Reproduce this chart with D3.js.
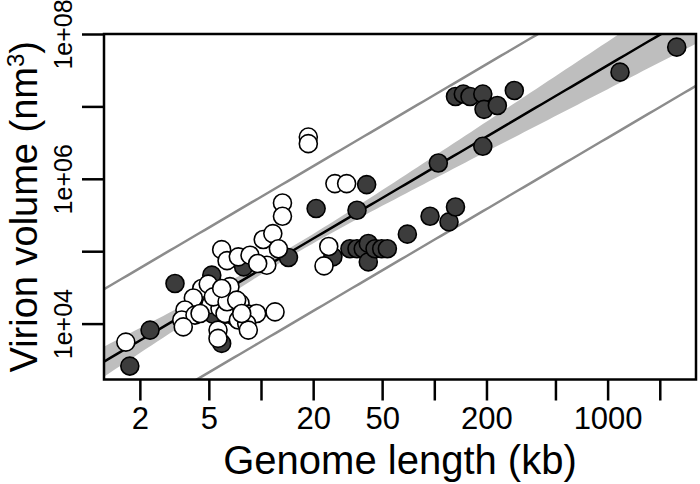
<!DOCTYPE html>
<html>
<head>
<meta charset="utf-8">
<script src="https://cdn.jsdelivr.net/npm/d3@7"></script>
<style>
  body { margin: 0; background: #fff; }
  text { font-family: "Liberation Sans", Arial, Helvetica, sans-serif; fill: #000; }
</style>
</head>
<body>
<svg id="chart" width="700" height="484"></svg>
<script>
// genome length (kb) and virion volume (nm^3), filled symbols
var genomeFilled = [1.75, 2.29, 3.19, 5.2, 5.93, 5.55, 5.28, 7.94, 14.4, 20.8, 26.0, 32.6, 35.8, 38.9, 41.6, 41.6,
  45.5, 49.7, 53.6, 35.8, 40.7, 69.9, 94.5, 121.6, 132.5, 105.5, 190.5, 132.5, 147, 160.7, 190.5, 193.6, 231, 289.5, 1179, 2505];
var volumeFilled = [2590, 8130, 35800, 46700, 5330, 27500, 13500, 60700, 81900, 388000, 83500, 108000, 108000, 108000, 128000, 71200,
  108000, 108000, 108000, 368000, 832000, 172000, 304000, 254000, 408000, 1650000, 2810000, 13700000, 14800000, 13700000, 14800000, 9100000, 10300000, 16600000, 29700000, 65800000];

// open symbols
var genomeOpen = [1.66, 18.75, 18.75, 26.7, 31.2, 13.3, 13.3, 5.93, 6.37, 7.40, 8.64, 10.3, 11.7, 12.6, 10.8, 9.57,
  24.6, 23.1, 6.62, 4.55, 4.07, 5.13, 3.64, 5.80, 7.57, 6.28, 7.08, 8.45, 9.44, 12.05, 3.49, 4.16,
  3.56, 4.45, 4.96, 5.31, 5.65, 5.65, 6.20, 6.37, 7.24, 7.40, 8.27, 8.45, 7.74, 5.93];
var volumeOpen = [5550, 3770000, 3060000, 859000, 859000, 464000, 304000, 105000, 74000, 83500, 88100, 145000, 175000, 108000, 64100, 67700,
  116000, 62700, 32400, 30600, 22600, 18400, 15400, 16200, 19000, 13500, 12400, 13500, 13800, 14500, 11200, 13100,
  9000, 13800, 35100, 23400, 8130, 6250, 13800, 20000, 21100, 11200, 10000, 8130, 13800, 30600];

// fitted line in log10 units, confidence band and guide lines
var fitIntercept = 3.342, fitSlope = 1.408;
var ciCentre = 1.2, ciMin = 0.062, ciGrowth = 0.179;
var guideOffset = 1.0;

var xTicks = [2, 5, 10, 20, 50, 100, 200, 500, 1000, 2000];
var xTickLabels = {2: "2", 5: "5", 20: "20", 50: "50", 200: "200", 1000: "1000"};
var yTicks = [1e4, 1e5, 1e6, 1e7, 1e8];
var yTickLabels = {10000: "1e+04", 1000000: "1e+06", 100000000: "1e+08"};

var plot = {left: 104, right: 696, top: 34, bottom: 379.5};

var svg = d3.select("#chart");

var x = d3.scaleLog().domain([1.242, 3236]).range([plot.left, plot.right]);
var y = d3.scaleLog().domain([1690, 1e8]).range([plot.bottom, plot.top]);

svg.append("clipPath").attr("id", "clip")
  .append("rect")
  .attr("x", plot.left).attr("y", plot.top)
  .attr("width", plot.right - plot.left).attr("height", plot.bottom - plot.top);

var inner = svg.append("g").attr("clip-path", "url(#clip)");

// punti lungo l'asse x per linea e banda
var lx0 = Math.log10(x.domain()[0]), lx1 = Math.log10(x.domain()[1]);
var steps = d3.range(0, 101).map(function(i) { return lx0 + (lx1 - lx0) * i / 100; });

function fit(lx) { return fitIntercept + fitSlope * lx; }
function halfWidth(lx) { return Math.sqrt(ciMin * ciMin + ciGrowth * ciGrowth * (lx - ciCentre) * (lx - ciCentre)); }

var band = d3.area()
  .x(function(lx) { return x(Math.pow(10, lx)); })
  .y0(function(lx) { return y(Math.pow(10, fit(lx) - halfWidth(lx))); })
  .y1(function(lx) { return y(Math.pow(10, fit(lx) + halfWidth(lx))); });

inner.append("path").datum(steps)
  .attr("d", band)
  .attr("fill", "#bebebe");

function lineAt(offset) {
  return d3.line()
    .x(function(lx) { return x(Math.pow(10, lx)); })
    .y(function(lx) { return y(Math.pow(10, fit(lx) + offset)); });
}

[guideOffset, -guideOffset].forEach(function(o) {
  inner.append("path").datum(steps)
    .attr("d", lineAt(o))
    .attr("fill", "none")
    .attr("stroke", "#8c8c8c")
    .attr("stroke-width", 2.5);
});

inner.append("path").datum(steps)
  .attr("d", lineAt(0))
  .attr("fill", "none")
  .attr("stroke", "#000")
  .attr("stroke-width", 2.5);

// punti
var filled = genomeFilled.map(function(g, i) { return {g: g, v: volumeFilled[i]}; });
var open = genomeOpen.map(function(g, i) { return {g: g, v: volumeOpen[i]}; });

svg.selectAll("circle.filled")
  .data(filled)
  .enter()
  .append("circle")
  .attr("class", "filled")
  .attr("cx", function(d) { return x(d.g); })
  .attr("cy", function(d) { return y(d.v); })
  .attr("r", 9)
  .attr("fill", "#3c3c3c")
  .attr("stroke", "#000")
  .attr("stroke-width", 1.6);

svg.selectAll("circle.open")
  .data(open)
  .enter()
  .append("circle")
  .attr("class", "open")
  .attr("cx", function(d) { return x(d.g); })
  .attr("cy", function(d) { return y(d.v); })
  .attr("r", 9)
  .attr("fill", "#fff")
  .attr("stroke", "#000")
  .attr("stroke-width", 1.6);

// box
svg.append("rect")
  .attr("x", plot.left).attr("y", plot.top)
  .attr("width", plot.right - plot.left).attr("height", plot.bottom - plot.top)
  .attr("fill", "none")
  .attr("stroke", "#000")
  .attr("stroke-width", 2.5);

// assi
var xAxis = d3.axisBottom(x)
  .tickValues(xTicks)
  .tickSize(21)
  .tickPadding(6)
  .tickFormat(function(d) { return xTickLabels[d] || ""; });

var gx = svg.append("g")
  .attr("transform", "translate(0," + plot.bottom + ")")
  .call(xAxis);
gx.select(".domain").remove();
gx.selectAll("line").attr("stroke", "#000").attr("stroke-width", 2.5);
gx.selectAll("text").attr("font-size", 31).attr("font-family", "Liberation Sans, Arial, sans-serif");

var yAxis = d3.axisLeft(y)
  .tickValues(yTicks)
  .tickSize(22)
  .tickPadding(8)
  .tickFormat(function(d) { return yTickLabels[Math.round(d)] || ""; });

var gy = svg.append("g")
  .attr("transform", "translate(" + plot.left + ",0)")
  .call(yAxis);
gy.select(".domain").remove();
gy.selectAll("line").attr("stroke", "#000").attr("stroke-width", 2.5);
gy.selectAll("text")
  .attr("font-size", 25)
  .attr("font-family", "Liberation Sans, Arial, sans-serif")
  .attr("text-anchor", "middle")
  .attr("dy", 0)
  .attr("x", 0)
  .attr("transform", "translate(-32,0) rotate(-90)");

// titoli
svg.append("text")
  .attr("x", (plot.left + plot.right) / 2)
  .attr("y", 474)
  .attr("text-anchor", "middle")
  .attr("font-size", 40)
  .text("Genome length (kb)");

var yt = svg.append("text")
  .attr("transform", "translate(37," + (plot.top + plot.bottom) / 2 + ") rotate(-90)")
  .attr("text-anchor", "middle")
  .attr("font-size", 38);
yt.append("tspan").text("Virion volume (nm");
yt.append("tspan").attr("font-size", 24).attr("dy", -13).text("3");
yt.append("tspan").attr("dy", 13).text(")");
</script>
</body>
</html>
